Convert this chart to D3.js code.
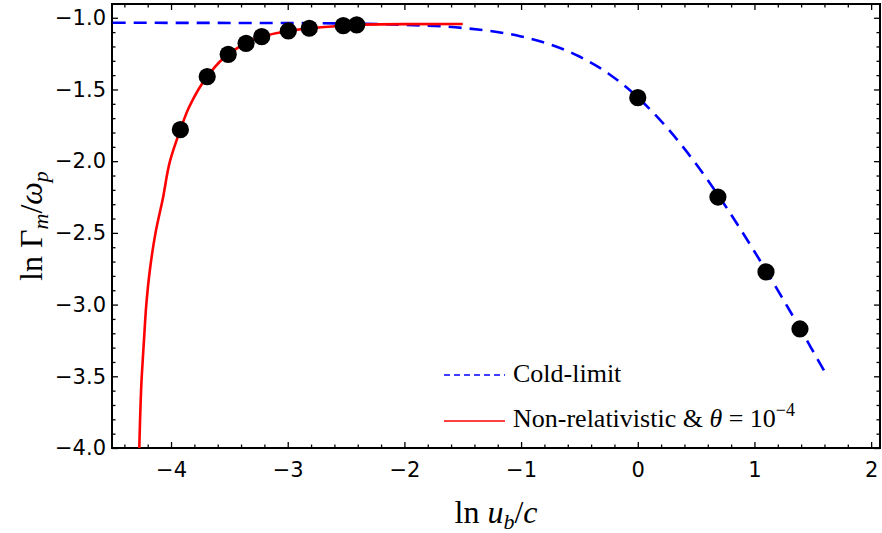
<!DOCTYPE html>
<html>
<head>
<meta charset="utf-8">
<script src="https://cdn.jsdelivr.net/npm/d3@7"></script>
<style>
  body { margin: 0; background: #fff; }
  .tick text { font-family: "DejaVu Sans", sans-serif; font-size: 21px; fill: #000; }
  .tick line { stroke: #000; stroke-width: 1.3; }
  .serif { font-family: "Liberation Serif", serif; fill: #000; }
</style>
</head>
<body>
<svg id="chart" width="882" height="533"></svg>
<script>
// measured points (ln u_b/c , ln Gamma_m/omega_p)
const pointX = [-3.92, -3.69, -3.51, -3.357, -3.223, -2.995, -2.815, -2.524, -2.409, 0.0, 0.687, 1.099, 1.39];
const pointY = [-1.78, -1.41, -1.255, -1.178, -1.132, -1.092, -1.073, -1.055, -1.05, -1.557, -2.25, -2.772, -3.17];

// cold-limit curve (blue dashed)
const coldX = [-4.5, -3.0, -2.5, -2.0, -1.5, -1.0, -0.75, -0.5, -0.25, 0.0, 0.25, 0.5, 0.75, 1.0, 1.25, 1.5, 1.6];
const coldY = [-1.035, -1.037, -1.04, -1.049, -1.071, -1.13, -1.186, -1.27, -1.39, -1.555, -1.766, -2.02, -2.311, -2.63, -2.969, -3.322, -3.465];

// non-relativistic, theta = 1e-4 (red)
const nrX = [-4.272, -4.251, -4.232, -4.212, -4.18, -4.133, -4.071, -4.009, -3.92, -3.846, -3.69, -3.51, -3.357, -3.223, -2.995, -2.815, -2.524, -2.409, -2.0, -1.5];
const nrY = [-4.0, -3.5, -3.25, -3.0, -2.75, -2.5, -2.264, -2.0, -1.78, -1.624, -1.41, -1.255, -1.178, -1.132, -1.092, -1.073, -1.055, -1.048, -1.044, -1.043];

const xTicks = [-4, -3, -2, -1, 0, 1, 2];
const yTicks = [-4.0, -3.5, -3.0, -2.5, -2.0, -1.5, -1.0];

const pLeft = 112, pRight = 880, pTop = 4, pBottom = 448;

const svg = d3.select("#chart");

const x = d3.scaleLinear().domain([-4.506, 2.076]).range([pLeft, pRight]);
const y = d3.scaleLinear().domain([-4.0, -0.904]).range([pBottom, pTop]);

const xMinor = d3.range(-4.4, 2.05, 0.2).filter(v => Math.abs(v - Math.round(v)) > 0.01);
const yMinor = d3.range(-3.9, -0.9, 0.1).filter(v => Math.abs(v * 2 - Math.round(v * 2)) > 0.01);

svg.append("defs").append("clipPath").attr("id", "clip")
  .append("rect").attr("x", pLeft).attr("y", pTop).attr("width", pRight - pLeft).attr("height", pBottom - pTop);

// axes: bottom / left with labels, top / right ticks only
function addAxis(axis, tf, major, minor, labels, pad) {
  const g = svg.append("g").attr("transform", tf)
    .call(axis.tickValues(major).tickSize(-6).tickPadding(pad)
      .tickFormat(labels ? labels : ""));
  g.select(".domain").remove();
  const gm = svg.append("g").attr("transform", tf)
    .call(axis.tickValues(minor).tickSize(-3.5).tickFormat(""));
  gm.select(".domain").remove();
}

addAxis(d3.axisBottom(x), `translate(0,${pBottom})`, xTicks, xMinor, d3.format("d"), 14);
addAxis(d3.axisTop(x), `translate(0,${pTop})`, xTicks, xMinor, null, 0);
addAxis(d3.axisLeft(y), `translate(${pLeft},0)`, yTicks, yMinor, d3.format(".1f"), 6);
addAxis(d3.axisRight(y), `translate(${pRight},0)`, yTicks, yMinor, null, 0);

svg.append("rect")
  .attr("x", pLeft).attr("y", pTop).attr("width", pRight - pLeft).attr("height", pBottom - pTop)
  .attr("fill", "none").attr("stroke", "#000").attr("stroke-width", 2);

const plot = svg.append("g").attr("clip-path", "url(#clip)");

const coldLine = d3.line().x(d => x(d[0])).y(d => y(d[1])).curve(d3.curveMonotoneX);
// red curve rises almost vertically, so interpolate along y
const nrLine = d3.line().x(d => x(d[0])).y(d => y(d[1])).curve(d3.curveMonotoneY);

plot.append("path")
  .datum(d3.zip(coldX, coldY))
  .attr("d", coldLine)
  .attr("fill", "none").attr("stroke", "#0000ff").attr("stroke-width", 2.6)
  .attr("stroke-dasharray", "13,8");

plot.append("path")
  .datum(d3.zip(nrX, nrY))
  .attr("d", nrLine)
  .attr("fill", "none").attr("stroke", "#ff0000").attr("stroke-width", 2.6);

plot.selectAll("circle.pt")
  .data(d3.zip(pointX, pointY))
  .enter().append("circle")
  .attr("class", "pt")
  .attr("cx", d => x(d[0]))
  .attr("cy", d => y(d[1]))
  .attr("r", 8.6)
  .attr("fill", "#000");

// legend
const lg = svg.append("g");
lg.append("line").attr("x1", 444).attr("x2", 505).attr("y1", 375).attr("y2", 375)
  .attr("stroke", "#0000ff").attr("stroke-width", 1.5).attr("stroke-dasharray", "6,4");
lg.append("text").attr("class", "serif").attr("x", 513).attr("y", 382)
  .style("font-size", "26px").text("Cold-limit");
lg.append("line").attr("x1", 444).attr("x2", 505).attr("y1", 421).attr("y2", 421)
  .attr("stroke", "#ff0000").attr("stroke-width", 1.3);
const t2 = lg.append("text").attr("class", "serif").attr("x", 513).attr("y", 427)
  .style("font-size", "26px");
t2.append("tspan").text("Non-relativistic & ");
t2.append("tspan").style("font-style", "italic").text("θ");
t2.append("tspan").text(" = 10");
t2.append("tspan").attr("dy", -11).style("font-size", "18px").text("−4");

// axis labels
const xl = svg.append("text").attr("class", "serif")
  .attr("x", (pLeft + pRight) / 2).attr("y", 523)
  .attr("text-anchor", "middle").style("font-size", "32px");
xl.append("tspan").text("ln ");
xl.append("tspan").style("font-style", "italic").text("u");
xl.append("tspan").attr("dy", 6).style("font-size", "22px").style("font-style", "italic").text("b");
xl.append("tspan").attr("dy", -6).text("/");
xl.append("tspan").style("font-style", "italic").text("c");

const yl = svg.append("text").attr("class", "serif")
  .attr("transform", `translate(42,${(pTop + pBottom) / 2}) rotate(-90)`)
  .attr("text-anchor", "middle").style("font-size", "32px");
yl.append("tspan").text("ln Γ");
yl.append("tspan").attr("dy", 6).style("font-size", "22px").style("font-style", "italic").text("m");
yl.append("tspan").attr("dy", -6).text("/");
yl.append("tspan").style("font-style", "italic").text("ω");
yl.append("tspan").attr("dy", 6).style("font-size", "22px").style("font-style", "italic").text("p");
</script>
</body>
</html>
